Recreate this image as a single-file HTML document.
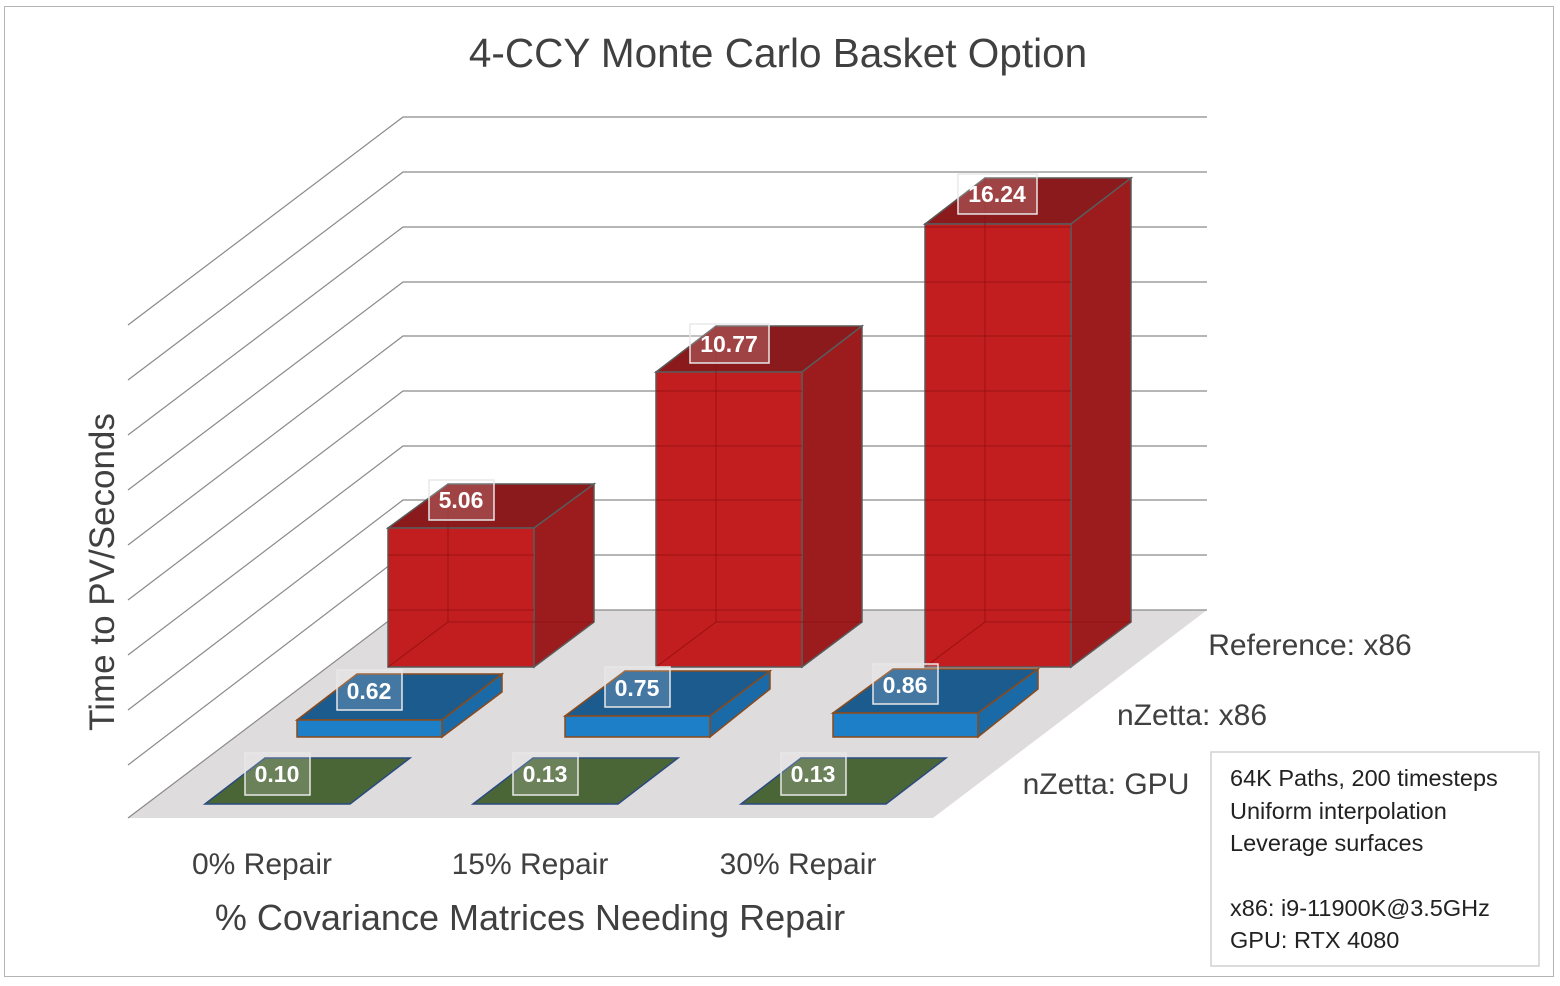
<!DOCTYPE html>
<html><head><meta charset="utf-8"><style>
body{margin:0;background:#fff}
svg text{font-family:"Liberation Sans",sans-serif}
</style></head><body>
<svg width="1560" height="981" viewBox="0 0 1560 981" xmlns="http://www.w3.org/2000/svg">
<rect x="0" y="0" width="1560" height="981" fill="#fff"/>
<rect x="4.5" y="6.5" width="1549" height="970" fill="#fff" stroke="#b4b4b4" stroke-width="1"/>
<text x="778" y="67" font-size="40.5" fill="#404040" text-anchor="middle">4-CCY Monte Carlo Basket Option</text>
<polygon points="128,818 403,610 1207,610 933,818" fill="#dedcdd"/>
<g stroke="#8a8a8a" stroke-width="1.2" fill="none">
<polyline points="128,325 403,117 1207,117"/>
<polyline points="128,380 403,172 1207,172"/>
<polyline points="128,435 403,227 1207,227"/>
<polyline points="128,490 403,282 1207,282"/>
<polyline points="128,545 403,336 1207,336"/>
<polyline points="128,600 403,391 1207,391"/>
<polyline points="128,655 403,446 1207,446"/>
<polyline points="128,710 403,500 1207,500"/>
<polyline points="128,765 403,555 1207,555"/>
<polyline points="128,818 403,610 1207,610"/>
</g>
<g stroke="#5a5a5a" stroke-width="1.5">
<polygon points="388,528 448,484 594,484 534,528" fill="#8a1a1c"/>
<polygon points="534,528 594,484 594,622 534,667" fill="#9c1c1e"/>
<rect x="388" y="528" width="146" height="139" fill="#c21d1f"/>
<polygon points="656,372 716,326 862,326 802,372" fill="#8a1a1c"/>
<polygon points="802,372 862,326 862,622 802,667" fill="#9c1c1e"/>
<rect x="656" y="372" width="146" height="295" fill="#c21d1f"/>
<polygon points="925,224 985,178 1131,178 1071,224" fill="#8a1a1c"/>
<polygon points="1071,224 1131,178 1131,622 1071,667" fill="#9c1c1e"/>
<rect x="925" y="224" width="146" height="443" fill="#c21d1f"/>
</g>
<g stroke="#8f1010" stroke-width="1" fill="none" opacity="0.8">
<polyline points="388,667 448,622 594,622"/><line x1="448" y1="484" x2="448" y2="622"/>
<polyline points="656,667 716,622 862,622"/><line x1="716" y1="326" x2="716" y2="622"/>
<polyline points="925,667 985,622 1131,622"/><line x1="985" y1="178" x2="985" y2="622"/>
<line x1="388" y1="610" x2="534" y2="610"/><line x1="388" y1="555" x2="534" y2="555"/>
<line x1="656" y1="610" x2="802" y2="610"/><line x1="656" y1="555" x2="802" y2="555"/><line x1="656" y1="500" x2="802" y2="500"/><line x1="656" y1="446" x2="802" y2="446"/><line x1="656" y1="391" x2="802" y2="391"/>
<line x1="925" y1="610" x2="1071" y2="610"/><line x1="925" y1="555" x2="1071" y2="555"/><line x1="925" y1="500" x2="1071" y2="500"/><line x1="925" y1="446" x2="1071" y2="446"/><line x1="925" y1="391" x2="1071" y2="391"/><line x1="925" y1="336" x2="1071" y2="336"/><line x1="925" y1="282" x2="1071" y2="282"/><line x1="925" y1="227" x2="1071" y2="227"/>
</g>
<g stroke="#8b4a1a" stroke-width="1.5">
<polygon points="297,720 357,674 502,674 442,720" fill="#1c5b8e"/>
<polygon points="442,720 502,674 502,692 442,737" fill="#1a6aa8"/>
<rect x="297" y="720" width="145" height="17" fill="#1d7fc8"/>
<polygon points="565,716 625,671 770,671 710,716" fill="#1c5b8e"/>
<polygon points="710,716 770,671 770,689 710,737" fill="#1a6aa8"/>
<rect x="565" y="716" width="145" height="21" fill="#1d7fc8"/>
<polygon points="833,713 893,669 1038,669 978,713" fill="#1c5b8e"/>
<polygon points="978,713 1038,669 1038,689 978,737" fill="#1a6aa8"/>
<rect x="833" y="713" width="145" height="24" fill="#1d7fc8"/>
</g>
<g stroke="#2a4a80" stroke-width="1.5" fill="#4b6636">
<polygon points="205,804 265,758 410,758 350,804"/>
<polygon points="473,804 533,758 678,758 618,804"/>
<polygon points="741,804 801,758 946,758 886,804"/>
</g>
<g stroke="#e8e8e8" stroke-width="1.5" fill="rgba(255,255,255,0.18)">
<rect x="429" y="480" width="65" height="40"/>
<rect x="690" y="324" width="79" height="39"/>
<rect x="958" y="174" width="79" height="40"/>
<rect x="337" y="670" width="65" height="40"/>
<rect x="605" y="667" width="65" height="40"/>
<rect x="873" y="664" width="65" height="40"/>
<rect x="245" y="753" width="65" height="42"/>
<rect x="513" y="753" width="65" height="42"/>
<rect x="781" y="753" width="65" height="42"/>
</g>
<g font-size="23" font-weight="bold" fill="#fff" text-anchor="middle">
<text x="461" y="508">5.06</text>
<text x="729" y="352">10.77</text>
<text x="997" y="202">16.24</text>
<text x="369" y="699">0.62</text>
<text x="637" y="696">0.75</text>
<text x="905" y="693">0.86</text>
<text x="277" y="782">0.10</text>
<text x="545" y="782">0.13</text>
<text x="813" y="782">0.13</text>
</g>
<g font-size="30" fill="#404040">
<text x="1310" y="655" text-anchor="middle">Reference: x86</text>
<text x="1192" y="725" text-anchor="middle">nZetta: x86</text>
<text x="1106" y="794" text-anchor="middle">nZetta: GPU</text>
<text x="262" y="874" text-anchor="middle">0% Repair</text>
<text x="530" y="874" text-anchor="middle">15% Repair</text>
<text x="798" y="874" text-anchor="middle">30% Repair</text>
</g>
<text x="530" y="930" font-size="36" fill="#404040" text-anchor="middle">% Covariance Matrices Needing Repair</text>
<text transform="translate(114,572) rotate(-90)" font-size="35" fill="#404040" text-anchor="middle">Time to PV/Seconds</text>
<rect x="1211" y="752" width="328" height="214" fill="#fff" stroke="#d0d0d0" stroke-width="1.5"/>
<g font-size="23.5" fill="#222">
<text x="1230" y="786">64K Paths, 200 timesteps</text>
<text x="1230" y="819">Uniform interpolation</text>
<text x="1230" y="851">Leverage surfaces</text>
<text x="1230" y="916">x86: i9-11900K@3.5GHz</text>
<text x="1230" y="948">GPU: RTX 4080</text>
</g>
</svg>
</body></html>
